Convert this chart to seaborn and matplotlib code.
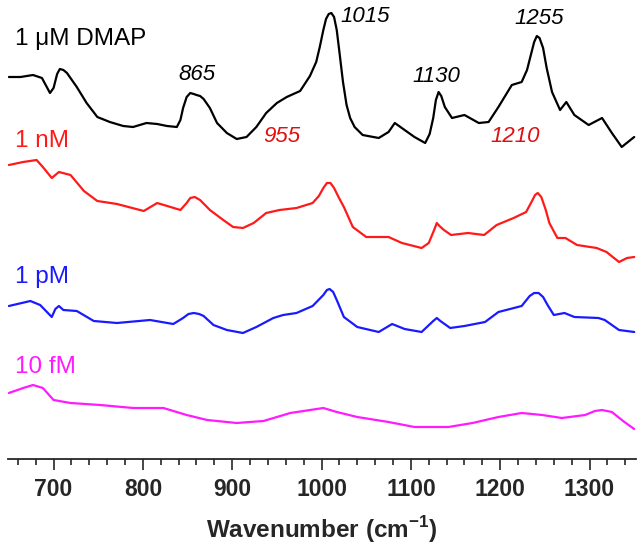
import numpy as np
import pandas as pd
import matplotlib
matplotlib.use("Agg")
import matplotlib.pyplot as plt
from matplotlib.ticker import MultipleLocator
import seaborn as sns

# SERS spectra, stacked with offsets (intensity in arbitrary units)
wn_dmap = [650, 663, 677, 687, 696, 700, 704, 707, 711, 715, 726, 737, 749, 763, 778, 789, 804,
           816, 827, 838, 842, 845, 849, 853, 857, 860, 864, 868, 875, 883, 894, 905, 916, 927,
           938, 950, 961, 976, 987, 994, 998, 1002, 1005, 1008, 1011, 1014, 1017, 1020, 1024,
           1028, 1032, 1037, 1046, 1064, 1075, 1082, 1093, 1104, 1116, 1121, 1125, 1128, 1131,
           1134, 1138, 1146, 1160, 1176, 1187, 1198, 1213, 1224, 1230, 1234, 1238, 1241, 1244,
           1248, 1252, 1258, 1267, 1274, 1283, 1299, 1314, 1325, 1336, 1350]
px_dmap = [77, 77, 75, 78, 93, 88, 74, 69, 70, 73, 87, 103, 117, 122, 126, 127, 123,
           124, 126, 127, 120, 108, 97, 93, 94, 95, 96, 99, 108, 123, 133, 139, 137, 127,
           113, 103, 97, 91, 76, 62, 47, 30, 19, 14, 13, 17, 30, 52, 82,
           105, 118, 127, 135, 138, 132, 123, 130, 137, 143, 134, 118, 100, 92,
           96, 107, 118, 115, 123, 122, 107, 85, 82, 70, 56, 42, 36, 38,
           48, 68, 92, 110, 102, 115, 125, 118, 133, 147, 137]

wn_1nm = [650, 666, 681, 688, 698, 706, 719, 734, 749, 771, 801, 816, 831, 842, 849, 853,
          858, 864, 875, 890, 901, 912, 924, 938, 953, 972, 990, 997, 1002, 1006, 1010,
          1014, 1019, 1025, 1035, 1050, 1075, 1090, 1112, 1120, 1126, 1129, 1132, 1137,
          1145, 1164, 1182, 1196, 1215, 1229, 1235, 1239, 1242, 1246, 1251, 1255, 1264,
          1273, 1286, 1308, 1319, 1333, 1342, 1350]
px_1nm = [165, 162, 160, 167, 178, 172, 175, 191, 201, 204, 211, 203, 207, 210, 203, 198,
          197, 200, 210, 220, 227, 228, 223, 213, 210, 208, 203, 196, 188, 183, 183,
          188, 197, 207, 227, 237, 237, 243, 248, 243, 230, 223, 226, 230,
          235, 233, 235, 225, 218, 212, 202, 195, 193, 197, 210, 223, 238,
          238, 245, 248, 252, 262, 258, 257]

wn_1pm = [650, 674, 685, 698, 702, 706, 711, 726, 745, 771, 808, 834, 845, 851, 857, 863,
          868, 879, 894, 912, 927, 946, 957, 972, 990, 1002, 1006, 1009, 1013, 1017, 1025,
          1040, 1064, 1079, 1093, 1112, 1125, 1129, 1133, 1144, 1160, 1183, 1198, 1224,
          1233, 1238, 1243, 1248, 1253, 1260, 1272, 1283, 1310, 1317, 1333, 1350]
px_1pm = [306, 301, 305, 317, 309, 306, 310, 311, 321, 323, 320, 324, 318, 314, 313, 314,
          316, 325, 330, 333, 327, 318, 315, 313, 306, 295, 290, 289, 292, 300, 317,
          327, 332, 324, 329, 332, 321, 318, 321, 328, 326, 322, 312, 306,
          296, 293, 293, 297, 305, 315, 313, 317, 318, 320, 330, 332]

wn_10fm = [650, 666, 677, 688, 700, 719, 752, 789, 823, 849, 872, 905, 935, 965, 1002,
           1017, 1040, 1075, 1104, 1142, 1169, 1198, 1224, 1247, 1269, 1295, 1306, 1314,
           1325, 1339, 1350]
px_10fm = [393, 388, 385, 388, 400, 403, 405, 408, 408, 415, 420, 423, 421, 413, 408,
           412, 417, 422, 427, 427, 423, 417, 413, 415, 418, 415, 411, 410,
           412, 422, 429]

series_names = ["1 \u03bcM DMAP", "1 nM", "1 pM", "10 fM"]
series_colors = ["#000000", "#ff1a1a", "#1a1aff", "#ff1aff"]
label_base = [414, 312, 176, 86]

peaks_black = [865, 1015, 1130, 1255]
peaks_red = [955, 1210]

TOP = 459


def to_int(px):
    return [TOP - p for p in px]


spectra = [(wn_dmap, to_int(px_dmap)), (wn_1nm, to_int(px_1nm)),
           (wn_1pm, to_int(px_1pm)), (wn_10fm, to_int(px_10fm))]

sns.set_style("ticks")
plt.rcParams["font.family"] = ["Liberation Sans", "DejaVu Sans"]
plt.rcParams["mathtext.fontset"] = "custom"
plt.rcParams["mathtext.rm"] = "Liberation Sans:bold"
plt.rcParams["mathtext.bf"] = "Liberation Sans:bold"

fig = plt.figure(figsize=(6.44, 5.47), dpi=100)
ax = fig.add_axes([8 / 644, 88 / 547, 628 / 644, 459 / 547])

for (wn, inten), name, col in zip(spectra, series_names, series_colors):
    df = pd.DataFrame({"wn": wn, "I": inten})
    sns.lineplot(data=df, x="wn", y="I", color=col, lw=1.6, sort=False,
                 estimator=None, ax=ax)

for name, col, yb in zip(series_names, series_colors, label_base):
    ax.text(657, yb, name, color=col, fontsize=17.5, va="baseline", ha="left")

# peak labels
black_pos = [(861, 384, "center"), (1021, 442, "left"), (1129, 383, "center"), (1244, 441, "center")]
for p, (x, y, ha) in zip(peaks_black, black_pos):
    ax.text(x, y, str(p), fontsize=16, style="italic", color="black", ha=ha, va="center")
red_pos = [(956, 323), (1217, 323)]
for p, (x, y) in zip(peaks_red, red_pos):
    ax.text(x, y, str(p), fontsize=16, style="italic", color="#e01010", ha="center", va="center")

ax.set_xlim(649, 1352)
ax.set_ylim(0, TOP)
ax.xaxis.set_major_locator(MultipleLocator(100))
ax.xaxis.set_minor_locator(MultipleLocator(20))
ax.tick_params(axis="x", which="major", length=8, width=1.2, labelsize=16.5, pad=6)
ax.tick_params(axis="x", which="minor", length=4.3, width=1.2)
for lbl in ax.get_xticklabels():
    lbl.set_fontweight("bold")
ax.set_yticks([])
ax.set_ylabel("")
ax.set_xlabel("Wavenumber (cm$^{-1}$)", fontsize=17.5, fontweight="bold", labelpad=9)
for s in ["top", "left", "right"]:
    ax.spines[s].set_visible(False)
ax.spines["bottom"].set_linewidth(1.3)

fig.savefig("out.png", dpi=100)
